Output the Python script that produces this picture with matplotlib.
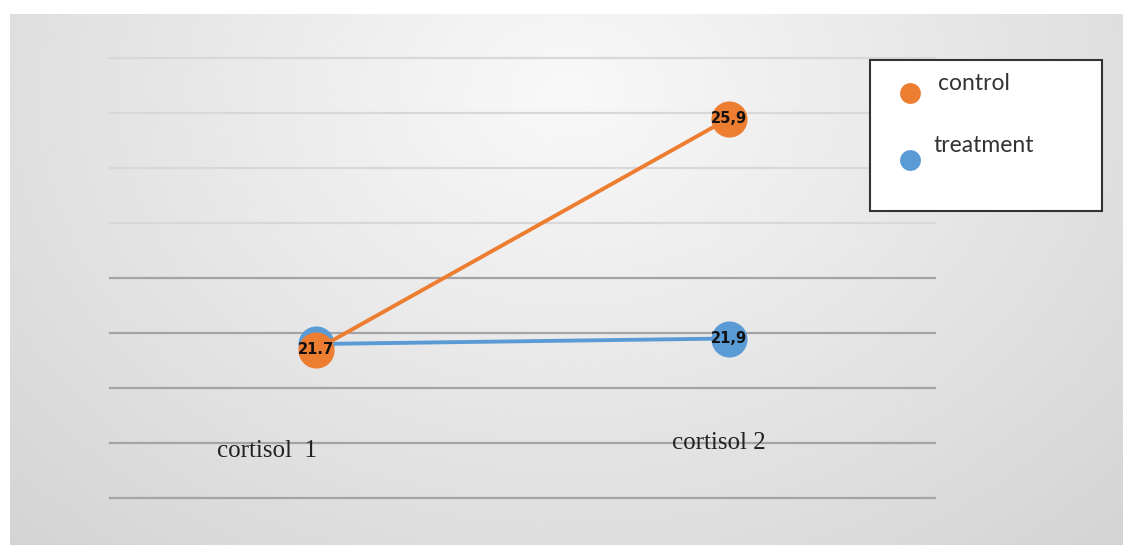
import numpy as np
import matplotlib
matplotlib.use("Agg")
import matplotlib.pyplot as plt
from matplotlib.patches import Rectangle
from matplotlib.lines import Line2D

# Cortisol readings, two measurements per group
categories = ["cortisol  1", "cortisol 2"]
control = [21.7, 25.9]
treatment = [21.8, 21.9]
control_labels = ["21.7", "25,9"]
treatment_labels = [None, "21,9"]
grid_levels = list(range(19, 28))

ORANGE = "#ED7D31"
BLUE = "#5B9BD5"

fig = plt.figure(figsize=(11.23, 5.45), dpi=100)
fig.patch.set_facecolor("white")

# grey panel with a soft light spot near the top middle
bg = fig.add_axes([10 / 1123, 0, 1 - 10 / 1123, 531 / 545])
yy, xx = np.mgrid[0:1:300j, 0:1:600j]
r = np.sqrt(((xx - 0.5) / 0.8) ** 2 + ((yy - 0.15) / 1.3) ** 2)
shade = np.clip(0.975 - 0.16 * r, 0.8, 1.0)
bg.imshow(shade, cmap="gray", vmin=0, vmax=1, aspect="auto",
          extent=[0, 1, 1, 0], interpolation="bicubic")
bg.set_axis_off()

ax = fig.add_axes([110 / 1123, 1 - 498 / 545, 825 / 1123, 440 / 545])
ax.patch.set_alpha(0)
ax.set_xlim(-0.5, 1.5)
ax.set_ylim(19, 27)
for s in ax.spines.values():
    s.set_visible(False)
ax.set_xticks([])
ax.set_yticks([])

for g in grid_levels:
    col = "#a4a4a4" if g <= 23 else "#d8d8d8"
    ax.axhline(g, color=col, lw=1.6, zorder=1, clip_on=False)

x = np.arange(len(categories))
ax.plot(x, treatment, color=BLUE, lw=2.8, marker="o", ms=26,
        markeredgewidth=0, zorder=3)
ax.plot(x, control, color=ORANGE, lw=2.8, marker="o", ms=26,
        markeredgewidth=0, zorder=4)

for xi, v, lab in zip(x, control, control_labels):
    if lab:
        ax.text(xi, v, lab, ha="center", va="center", fontsize=10.5,
                fontweight="bold", color="#111111", zorder=6)
for xi, v, lab in zip(x, treatment, treatment_labels):
    if lab:
        ax.text(xi, v, lab, ha="center", va="center", fontsize=10.5,
                fontweight="bold", color="#111111", zorder=5)

# category names sit on the lower gridlines
ax.text(-0.12, 19.85, categories[0], ha="center", va="center",
        fontsize=18, family="Liberation Serif", color="#222222")
ax.text(0.975, 20.0, categories[1], ha="center", va="center",
        fontsize=18, family="Liberation Serif", color="#222222")

# legend box
W, H = 1123, 545
fig.patches.append(Rectangle((870 / W, 1 - 211 / H), 232 / W, 151 / H,
                             transform=fig.transFigure, facecolor="white",
                             edgecolor="#333333", lw=1.5, zorder=10))
fig.add_artist(Line2D([910 / W], [1 - 93 / H], marker="o", ms=15,
                      color=ORANGE, markeredgewidth=0, zorder=11))
fig.add_artist(Line2D([910 / W], [1 - 160 / H], marker="o", ms=15,
                      color=BLUE, markeredgewidth=0, zorder=11))
fig.text(938 / W, 1 - 84 / H, "control", fontsize=16.5, family="Lato",
         color="#333333", va="center", zorder=12)
fig.text(933 / W, 1 - 145 / H, "treatment", fontsize=16.5, family="Lato",
         color="#333333", va="center", zorder=12)

fig.savefig("out.png", dpi=100)
